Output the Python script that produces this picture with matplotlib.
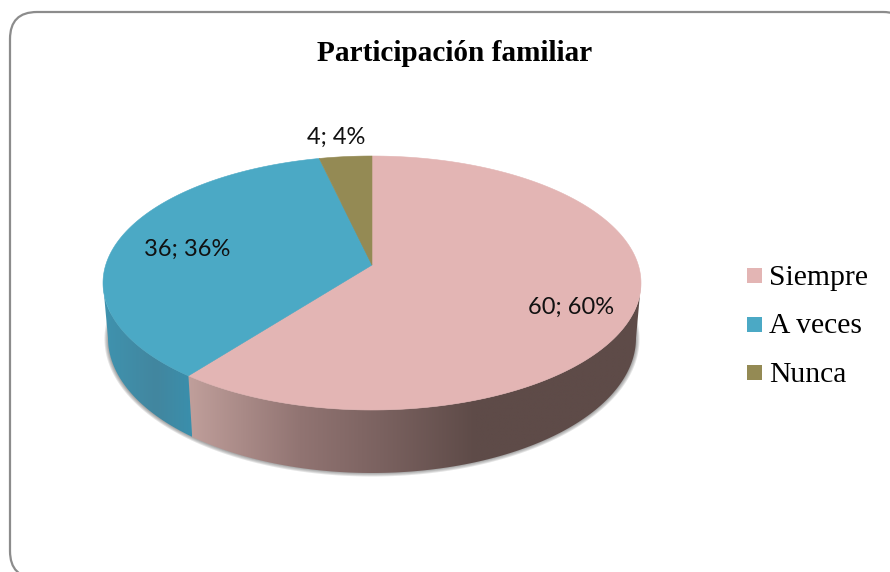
import numpy as np
import matplotlib
matplotlib.use("Agg")
import matplotlib.pyplot as plt
from matplotlib.colors import LinearSegmentedColormap
from matplotlib.patches import FancyBboxPatch, Polygon, Rectangle

# datos
categorias = ["Siempre", "A veces", "Nunca"]
valores = [60, 36, 4]
porcentajes = [60, 36, 4]
colores = ["#E3B5B4", "#4BA9C5", "#948A54"]
titulo = "Participación familiar"

# geometria del disco en pixeles
cx, cy, rx, ry = 372, 283, 269, 127      # cara superior
bx, by, brx, bry = 372, 338, 264, 135    # borde inferior
ax0, ay0 = 372, 265                      # vertice de las porciones


def borde(ang):
    # punto del borde de la cara superior para un angulo real (perspectiva)
    ang = np.asarray(ang, dtype=float)
    r = np.where(np.cos(ang) > 0, 1.93, 2.28)
    dx, dy = r * np.sin(ang), -np.cos(ang)
    a = (dx / rx) ** 2 + (dy / ry) ** 2
    b = 2 * (dx * (ax0 - cx) / rx ** 2 + dy * (ay0 - cy) / ry ** 2)
    c = ((ax0 - cx) / rx) ** 2 + ((ay0 - cy) / ry) ** 2 - 1
    t = (-b + np.sqrt(b * b - 4 * a * c)) / (2 * a)
    return ax0 + t * dx, ay0 + t * dy


fig = plt.figure(figsize=(8.9, 5.72), dpi=100)
ax = fig.add_axes([0, 0, 1, 1])
ax.set_xlim(0, 890)
ax.set_ylim(572, 0)
ax.axis("off")

# marco redondeado
ax.add_patch(FancyBboxPatch((10, 12), 900, 566, boxstyle="round,pad=0,rounding_size=27",
                            fc="white", ec="#8C8C8C", lw=1.6, zorder=1))

# sombra del disco
t = np.linspace(0, 2 * np.pi, 300)
for i in range(4):
    ax.fill(bx + (brx + 3.5 - i) * np.cos(t), by + 1 + (bry + 2.5 - i) * np.sin(t),
            color="#555555", alpha=0.16, lw=0, zorder=2)

# angulos de cada porcion, sentido horario desde arriba
fracciones = np.array(valores) / sum(valores)
limites = np.concatenate([[0], np.cumsum(fracciones)]) * 2 * np.pi

# pared lateral
grad_rosa = LinearSegmentedColormap.from_list(
    "rosa", [(0, "#C09F9B"), (0.247, "#917472"), (0.424, "#7B6260"), (0.634, "#5E4B48"), (1, "#5E4B48")])
grad_azul = LinearSegmentedColormap.from_list(
    "azul", [(0, "#3F93AF"), (0.6, "#42869F"), (1, "#3A8FAC")])

pie_x, pie_y = borde(limites[1])
sep = np.arctan2((pie_x - cx) / rx, -(pie_y - cy) / ry) % (2 * np.pi)
sep_b = np.arctan2((pie_x + 4 - bx) / brx, -98.7 / bry) % (2 * np.pi)

# rosa: de la derecha (90 grados) hasta la separacion
s1 = np.linspace(np.pi / 2, sep, 200)
s2 = np.linspace(sep_b, np.pi / 2, 200)
pared_rosa = np.column_stack([
    np.concatenate([cx + rx * np.sin(s1), bx + brx * np.sin(s2)]),
    np.concatenate([cy - ry * np.cos(s1), by - bry * np.cos(s2)])])
# azul: de la separacion hasta la izquierda
s3 = np.linspace(sep, 1.5 * np.pi, 120)
s4 = np.linspace(1.5 * np.pi, sep_b, 120)
pared_azul = np.column_stack([
    np.concatenate([cx + rx * np.sin(s3), bx + brx * np.sin(s4)]),
    np.concatenate([cy - ry * np.cos(s3), by - bry * np.cos(s4)])])

for pared, cmap, x0, x1 in [(pared_rosa, grad_rosa, 188, 641), (pared_azul, grad_azul, 103, 192)]:
    pol = Polygon(pared, closed=True, fc="none", ec="none", zorder=3)
    ax.add_patch(pol)
    im = ax.imshow(np.linspace(0, 1, 256).reshape(1, -1), extent=(x0, x1, 480, 270),
                   cmap=cmap, aspect="auto", zorder=3, interpolation="bilinear")
    im.set_clip_path(pol)
ax.set_xlim(0, 890)
ax.set_ylim(572, 0)

# cara superior
for i, color in enumerate(colores):
    ang = np.linspace(limites[i], limites[i + 1], 200)
    px, py = borde(ang)
    ax.add_patch(Polygon(np.column_stack([np.r_[ax0, px], np.r_[ay0, py]]), closed=True,
                         fc=color, ec=color, lw=0.4, zorder=4))

# etiquetas de datos
pos_etiquetas = [(571, 314), (187, 256), (336, 144)]
for v, p, (x, y) in zip(valores, porcentajes, pos_etiquetas):
    ax.text(x, y, f"{v}; {p}%", fontsize=17, family="Lato", color="#111111",
            ha="center", va="baseline", zorder=5)

ax.text(455, 61, titulo, fontsize=21.1, family="Liberation Serif", weight="bold",
        ha="center", va="baseline", color="black", zorder=5)

# leyenda
for nombre, color, y_cuadro, y_texto in zip(categorias, colores, [268, 317, 365], [285, 333, 382]):
    ax.add_patch(Rectangle((747, y_cuadro), 15, 15, fc=color, ec="none", zorder=5))
    ax.text(769, y_texto, nombre, fontsize=21.3, family="Liberation Serif", color="black",
            ha="left", va="baseline", zorder=5)

fig.savefig("out.png", dpi=100)
